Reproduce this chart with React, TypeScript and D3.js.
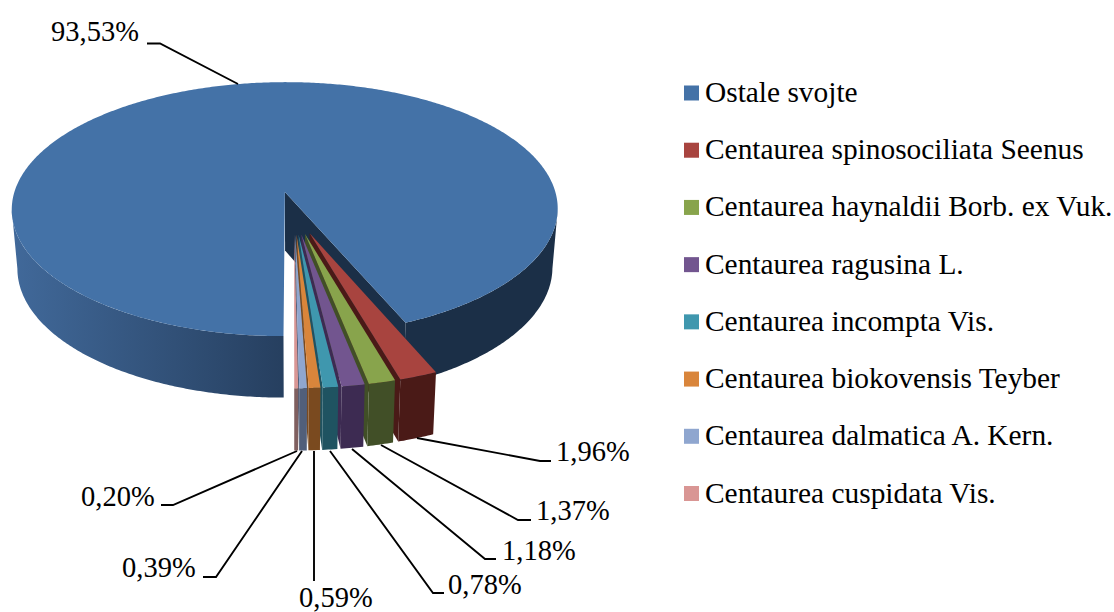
import React from "react";
import * as d3 from "d3";

const names = [
  "Ostale svojte",
  "Centaurea spinosociliata Seenus",
  "Centaurea haynaldii Borb. ex Vuk.",
  "Centaurea ragusina L.",
  "Centaurea incompta Vis.",
  "Centaurea biokovensis Teyber",
  "Centaurea dalmatica A. Kern.",
  "Centaurea cuspidata Vis.",
];
const shares = [93.53, 1.96, 1.37, 1.18, 0.78, 0.59, 0.39, 0.2];
const shareLabels = ["93,53%", "1,96%", "1,37%", "1,18%", "0,78%", "0,59%", "0,39%", "0,20%"];

const faceColors = ["#4472a7", "#a8443f", "#88a44c", "#72558f", "#3f97ae", "#d9853b", "#8fa6cf", "#d99694"];
const wallColors = ["#1b2f47", "#4a1a17", "#414f27", "#3d2b52", "#1f5361", "#7a4a1f", "#515f7a", "#7f5f5f"];

// where each label sits, and its leader line (label end, elbow, end on the pie)
const labelPos = [
  [51, 41], [556, 461], [536, 520], [502, 560], [448, 594], [299, 607], [122, 577], [81, 506],
];
const leaders = [
  [[147, 43.5], [160, 43.5], [238, 84]],
  [[551, 461], [540, 461], [417, 438]],
  [[531, 520], [518, 520], [381, 445]],
  [[496, 559], [485, 559], [352, 449]],
  [[444, 593], [433, 593], [330, 451]],
  [[314, 581], [314, 451]],
  [[203, 577], [216, 577], [302, 451]],
  [[161, 505], [173, 505], [297, 451]],
];

const labelFont = 28.5;
const legendFont = 29.4;
const serif = "'Liberation Serif', 'Times New Roman', serif";

// camera for the tilted disc
const cx = 293.9;
const cy = 212.7;
const rx = 276.5;
const ry = 130.3;
const persp = 0.137;
const explode = 0.165;
const depth = 59;
const smallRadius = 0.972;

const project = (u: number, v: number, lower: boolean): [number, number] => {
  const s = 1 / (1 - persp * v);
  const x = cx + rx * u * s;
  const y = cy + ry * v * s;
  if (!lower) return [x, y];
  return [cx + (x - cx) * 0.98, y + depth * (1 + 0.05 * v)];
};

const line = d3.line();
const pieLayout = d3.pie<number>().sort(null).startAngle(Math.PI).endAngle(3 * Math.PI);

const arcAngles = (a0: number, a1: number) => {
  const n = Math.max(2, Math.ceil(Math.abs(a1 - a0) / 0.01));
  return d3.range(n + 1).map((i) => a0 + ((a1 - a0) * i) / n);
};

type Offset = [number, number];

const rim = (a: number, o: Offset, r: number, lower: boolean) =>
  project(r * Math.sin(a) + o[0], -r * Math.cos(a) + o[1], lower);

const facePath = (a0: number, a1: number, o: Offset, r: number) =>
  line([project(o[0], o[1], false), ...arcAngles(a0, a1).map((a) => rim(a, o, r, false))]) + "Z";

const wallPath = (a0: number, a1: number, o: Offset, r: number) => {
  const angles = arcAngles(a0, a1);
  return (
    line([
      ...angles.map((a) => rim(a, o, r, false)),
      ...angles.slice().reverse().map((a) => rim(a, o, r, true)),
    ]) + "Z"
  );
};

const radialPath = (a: number, o: Offset, r: number) =>
  line([
    project(o[0], o[1], false),
    rim(a, o, r, false),
    rim(a, o, r, true),
    project(o[0], o[1], true),
  ]) + "Z";

export default function App() {
  const arcs = pieLayout(shares);
  const offsets: Offset[] = arcs.map((d) => {
    const mid = (d.startAngle + d.endAngle) / 2;
    return [explode * Math.sin(mid), -explode * Math.cos(mid)];
  });
  const big = arcs[0];
  const bigOff = offsets[0];
  const legendY = d3.scalePoint<string>().domain(names).range([93.5, 494]);
  // the rim is cut where the disc is widest on screen, so the silhouette stays straight
  const leftEdge = (Math.PI * 262) / 180;
  const rightEdge = (Math.PI * 458) / 180;

  return (
    <svg
      width={1114}
      height={612}
      style={{ position: "absolute", left: 0, top: 0, background: "#fff" }}
      fontFamily={serif}
    >
      <defs>
        <linearGradient id="bigWall" gradientUnits="userSpaceOnUse" x1={12} x2={285} y1={0} y2={0}>
          <stop offset="0" stopColor="#41699a" />
          <stop offset="1" stopColor="#263f5f" />
        </linearGradient>
      </defs>

      {/* large slice: inner wall, then the rim on both sides, then the top */}
      <path d={radialPath(big.endAngle, bigOff, 1)} fill={wallColors[0]} />
      <path d={wallPath(rightEdge, big.endAngle, bigOff, 1)} fill={wallColors[0]} />
      <path d={wallPath(Math.PI, leftEdge, bigOff, 1)} fill="url(#bigWall)" />
      <path d={facePath(big.startAngle, big.endAngle, bigOff, 1)} fill={faceColors[0]} />

      {/* small slices, back to front */}
      {arcs.slice(1).map((d, i) => {
        const k = i + 1;
        return (
          <g key={names[k]}>
            <path d={radialPath(d.endAngle, offsets[k], smallRadius)} fill={wallColors[k]} />
            <path d={wallPath(d.startAngle, d.endAngle, offsets[k], smallRadius)} fill={wallColors[k]} />
            <path d={facePath(d.startAngle, d.endAngle, offsets[k], smallRadius)} fill={faceColors[k]} />
          </g>
        );
      })}

      {leaders.map((pts, i) => (
        <path
          key={i}
          d={line(pts as [number, number][]) ?? ""}
          fill="none"
          stroke="#000"
          strokeWidth={1.9}
        />
      ))}
      {shareLabels.map((t, i) => (
        <text key={t} x={labelPos[i][0]} y={labelPos[i][1]} fontSize={labelFont} fill="#000">
          {t}
        </text>
      ))}

      {names.map((n, i) => {
        const y = legendY(n) ?? 0;
        return (
          <g key={n}>
            <rect x={684} y={y - 8} width={15} height={15} fill={faceColors[i]} />
            <text x={705} y={y + 8.5} fontSize={legendFont} fill="#000">
              {n}
            </text>
          </g>
        );
      })}
    </svg>
  );
}
